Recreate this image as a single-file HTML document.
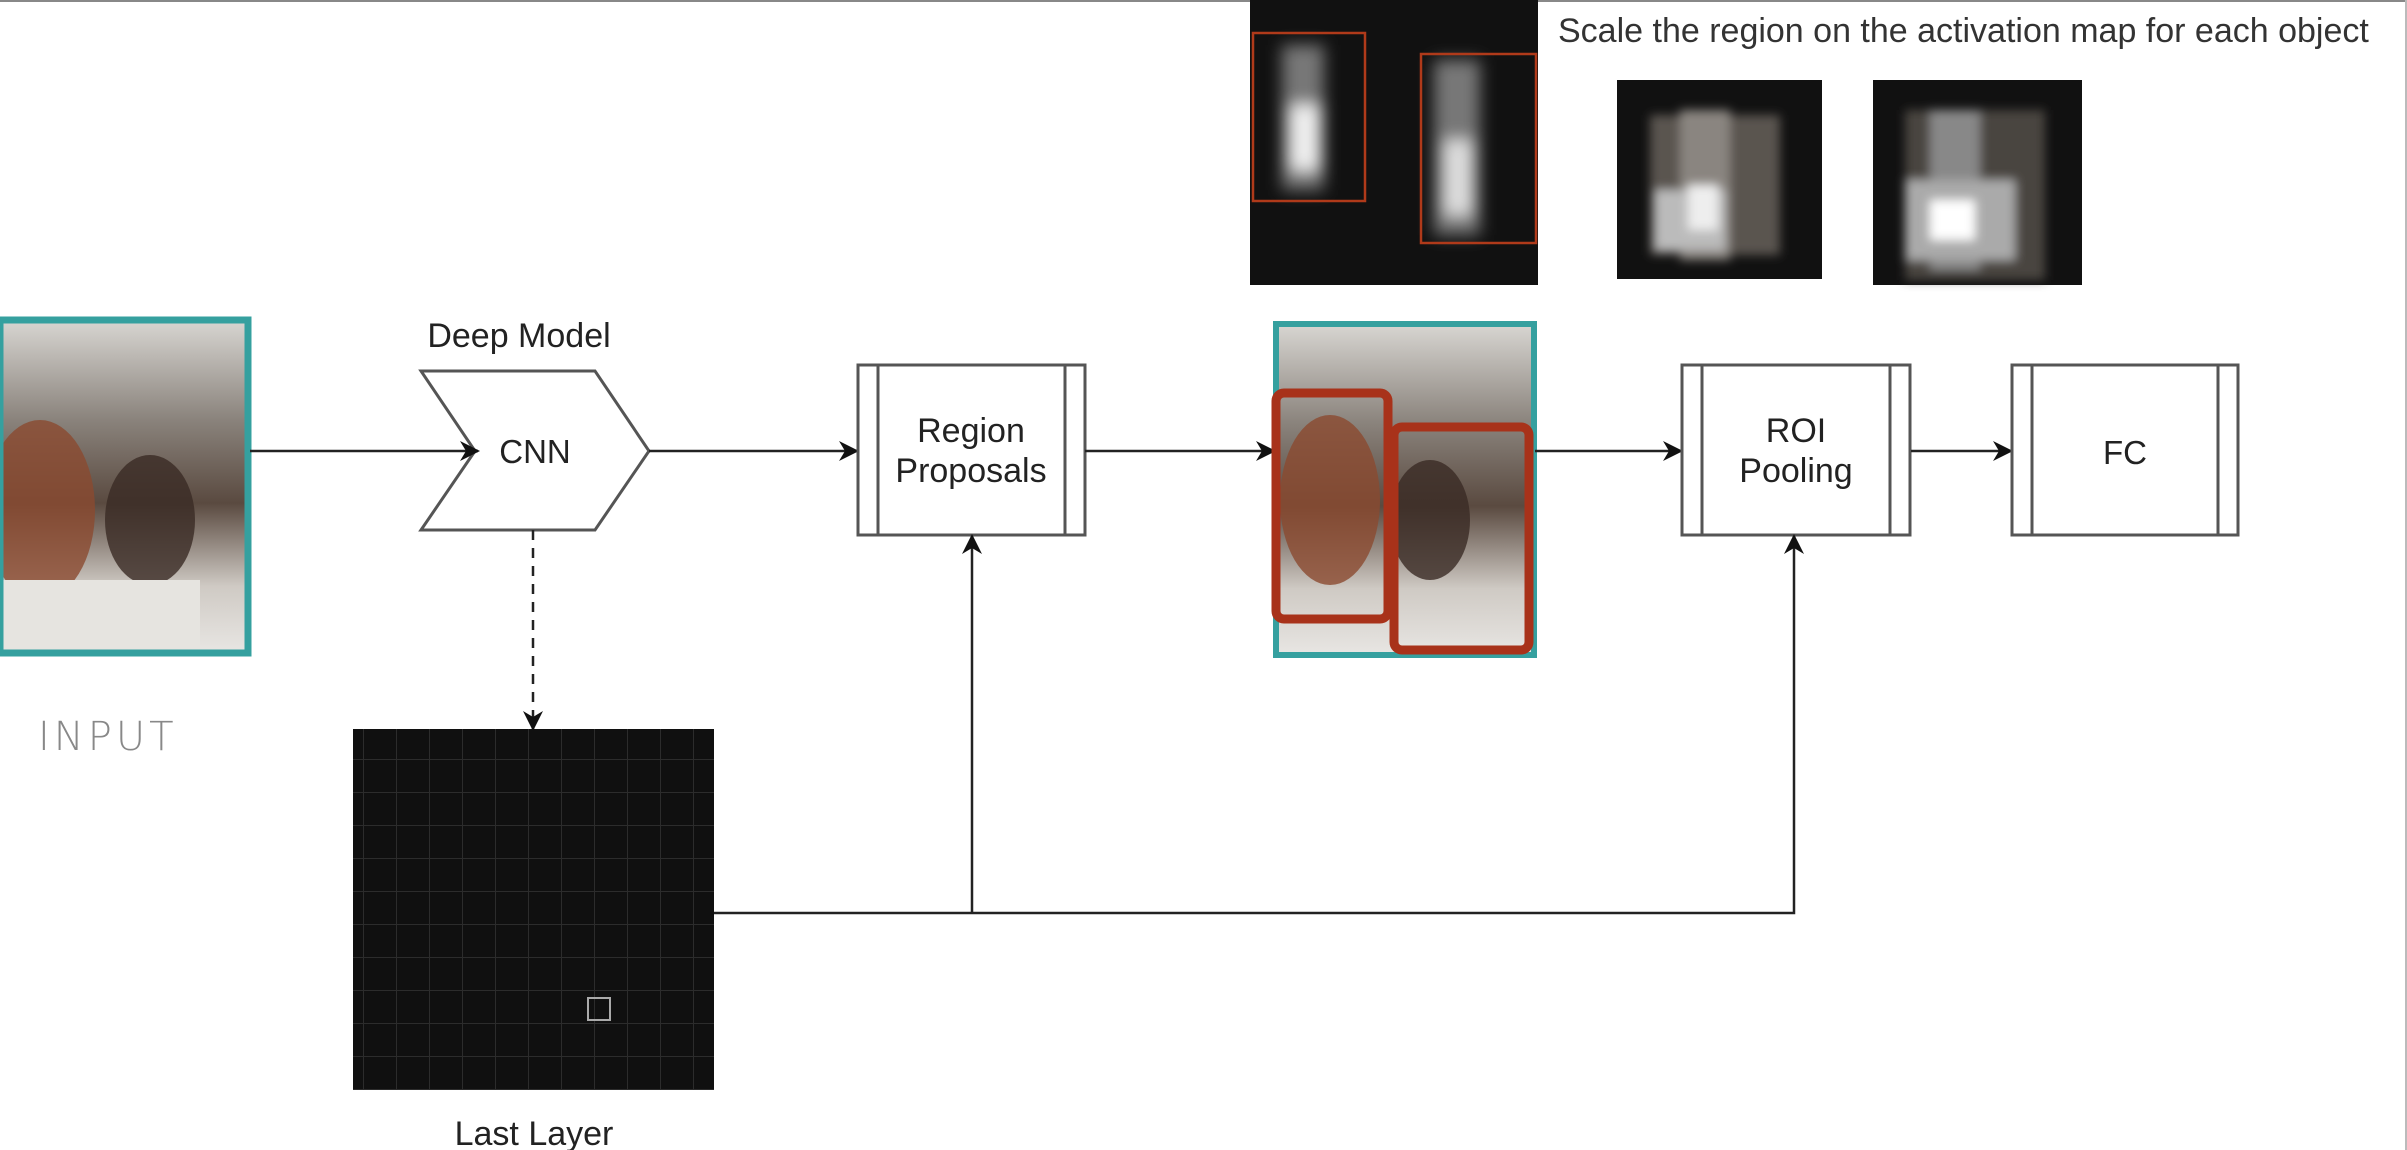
<!DOCTYPE html>
<html><head><meta charset="utf-8"><style>
html,body{margin:0;padding:0;background:#fff;}
svg{display:block;font-family:"Liberation Sans",sans-serif;}
</style></head><body>
<svg width="2407" height="1150" viewBox="0 0 2407 1150" xmlns="http://www.w3.org/2000/svg">
<defs>
<marker id="ah2" viewBox="0 0 10 10" markerWidth="20" markerHeight="20" refX="9" refY="5" orient="auto" markerUnits="userSpaceOnUse"><path d="M0,0 L10,5 L0,10 L3,5 z" fill="#111"/></marker>
<filter id="bl"><feGaussianBlur stdDeviation="8"/></filter>
<filter id="bl2"><feGaussianBlur stdDeviation="5"/></filter>
<linearGradient id="ph" x1="0" y1="0" x2="0" y2="1">
<stop offset="0" stop-color="#d8d6d2"/><stop offset="0.3" stop-color="#8a837c"/><stop offset="0.55" stop-color="#5a4a40"/><stop offset="0.8" stop-color="#cfcac4"/><stop offset="1" stop-color="#e8e6e3"/></linearGradient>
<pattern id="grid" width="33" height="33" patternUnits="userSpaceOnUse"><rect width="33" height="33" fill="#101010"/><path d="M0,0 H33 M0,0 V33" stroke="#2c2c2c" stroke-width="2"/></pattern>
</defs>
<rect x="0" y="0" width="2407" height="1150" fill="#fff"/>
<line x1="0" y1="1" x2="2407" y2="1" stroke="#888" stroke-width="2"/>
<line x1="2406" y1="0" x2="2406" y2="1150" stroke="#bbb" stroke-width="2"/>

<rect x="0" y="320" width="248" height="333" fill="url(#ph)"/>
<ellipse cx="40" cy="510" rx="55" ry="90" fill="#8b4a30" opacity="0.8"/>
<ellipse cx="150" cy="520" rx="45" ry="65" fill="#3a2a24" opacity="0.8"/>
<rect x="0" y="580" width="200" height="73" fill="#e6e4e0"/>
<rect x="0" y="320" width="248" height="333" fill="none" stroke="#35a09f" stroke-width="7"/>
<text x="38" y="750" font-size="40" fill="#888" font-weight="100" letter-spacing="4" style="font-family:'DejaVu Sans',sans-serif">INPUT</text>

<text x="519" y="347" font-size="34" text-anchor="middle" fill="#222">Deep Model</text>
<polygon points="421,371 595,371 649,451 595,530 421,530 475,451" fill="#fff" stroke="#555" stroke-width="3"/>
<text x="535" y="463" font-size="33" text-anchor="middle" fill="#222">CNN</text>
<line x1="250" y1="451" x2="478" y2="451" stroke="#222" stroke-width="2.5" marker-end="url(#ah2)"/>
<line x1="649" y1="451" x2="857" y2="451" stroke="#222" stroke-width="2.5" marker-end="url(#ah2)"/>
<line x1="533" y1="530" x2="533" y2="729" stroke="#222" stroke-width="2.5" stroke-dasharray="10,8" marker-end="url(#ah2)"/>

<rect x="858" y="365" width="227" height="170" fill="#fff" stroke="#555" stroke-width="3"/>
<line x1="878" y1="365" x2="878" y2="535" stroke="#555" stroke-width="3"/>
<line x1="1065" y1="365" x2="1065" y2="535" stroke="#555" stroke-width="3"/>
<text x="971" y="442" font-size="34" text-anchor="middle" fill="#222">Region</text>
<text x="971" y="482" font-size="34" text-anchor="middle" fill="#222">Proposals</text>
<line x1="1085" y1="451" x2="1274" y2="451" stroke="#222" stroke-width="2.5" marker-end="url(#ah2)"/>

<rect x="1276" y="324" width="258" height="331" fill="url(#ph)"/>
<ellipse cx="1330" cy="500" rx="50" ry="85" fill="#8b4a30" opacity="0.8"/>
<ellipse cx="1430" cy="520" rx="40" ry="60" fill="#3a2a24" opacity="0.8"/>
<rect x="1276" y="324" width="258" height="331" fill="none" stroke="#35a09f" stroke-width="6"/>
<rect x="1276" y="393" width="112" height="226" rx="8" fill="none" stroke="#a8321a" stroke-width="9"/>
<rect x="1394" y="427" width="135" height="223" rx="8" fill="none" stroke="#a8321a" stroke-width="9"/>
<line x1="1535" y1="451" x2="1681" y2="451" stroke="#222" stroke-width="2.5" marker-end="url(#ah2)"/>

<rect x="1682" y="365" width="228" height="170" fill="#fff" stroke="#555" stroke-width="3"/>
<line x1="1702" y1="365" x2="1702" y2="535" stroke="#555" stroke-width="3"/>
<line x1="1890" y1="365" x2="1890" y2="535" stroke="#555" stroke-width="3"/>
<text x="1796" y="442" font-size="34" text-anchor="middle" fill="#222">ROI</text>
<text x="1796" y="482" font-size="34" text-anchor="middle" fill="#222">Pooling</text>
<line x1="1911" y1="451" x2="2011" y2="451" stroke="#222" stroke-width="2.5" marker-end="url(#ah2)"/>

<rect x="2012" y="365" width="226" height="170" fill="#fff" stroke="#555" stroke-width="3"/>
<line x1="2032" y1="365" x2="2032" y2="535" stroke="#555" stroke-width="3"/>
<line x1="2218" y1="365" x2="2218" y2="535" stroke="#555" stroke-width="3"/>
<text x="2125" y="464" font-size="33" text-anchor="middle" fill="#222">FC</text>

<rect x="353" y="729" width="361" height="361" fill="url(#grid)"/>
<rect x="588" y="998" width="22" height="22" fill="none" stroke="#aaa" stroke-width="2"/>
<text x="534" y="1145" font-size="34" text-anchor="middle" fill="#222">Last Layer</text>
<polyline points="714,913 1794,913 1794,536" fill="none" stroke="#222" stroke-width="2.5" marker-end="url(#ah2)"/>
<line x1="972" y1="913" x2="972" y2="536" stroke="#222" stroke-width="2.5" marker-end="url(#ah2)"/>

<rect x="1250" y="0" width="288" height="285" fill="#111"/>
<g filter="url(#bl)">
<rect x="1282" y="45" width="42" height="145" fill="#777"/>
<rect x="1290" y="105" width="30" height="65" fill="#eee"/>
<rect x="1434" y="60" width="46" height="175" fill="#777"/>
<rect x="1444" y="140" width="28" height="75" fill="#ddd"/>
</g>
<rect x="1253" y="33" width="112" height="168" fill="none" stroke="#b03a1a" stroke-width="2.5"/>
<rect x="1421" y="54" width="115" height="189" fill="none" stroke="#b03a1a" stroke-width="2.5"/>
<text x="1558" y="42" font-size="34" fill="#333">Scale the region on the activation map for each object</text>

<rect x="1617" y="80" width="205" height="199" fill="#111"/>
<g filter="url(#bl2)">
<rect x="1650" y="115" width="130" height="140" fill="#5a5550"/>
<rect x="1680" y="110" width="50" height="150" fill="#8a8580"/>
<rect x="1655" y="190" width="70" height="60" fill="#bbb"/>
<rect x="1688" y="185" width="30" height="45" fill="#eee"/>
</g>
<rect x="1873" y="80" width="209" height="205" fill="#111"/>
<g filter="url(#bl2)">
<rect x="1905" y="110" width="140" height="170" fill="#4a4540"/>
<rect x="1930" y="110" width="50" height="160" fill="#888"/>
<rect x="1905" y="180" width="110" height="80" fill="#aaa"/>
<rect x="1930" y="200" width="45" height="40" fill="#fff"/>
</g>
</svg>
</body></html>
